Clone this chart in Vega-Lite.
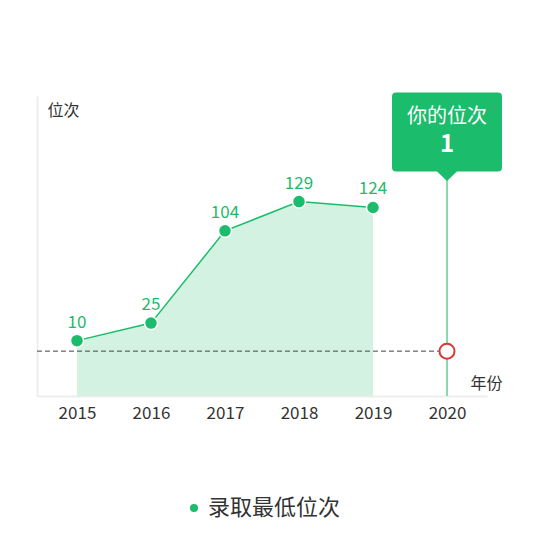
{
  "$schema": "https://vega.github.io/schema/vega-lite/v6.json",
  "width": 450,
  "height": 300,
  "autosize": "none",
  "padding": {"left": 37, "top": 96, "right": 58, "bottom": 150},
  "background": "white",
  "config": {
    "font": "Noto Sans CJK SC",
    "view": {"stroke": null},
    "axis": {"grid": false, "ticks": false, "domainColor": "#eeeeee", "domainWidth": 2}
  },
  "datasets": {
    "history": [
      {"year": 2015, "rank": 10, "series": "录取最低位次"},
      {"year": 2016, "rank": 25, "series": "录取最低位次"},
      {"year": 2017, "rank": 104, "series": "录取最低位次"},
      {"year": 2018, "rank": 129, "series": "录取最低位次"},
      {"year": 2019, "rank": 124, "series": "录取最低位次"}
    ],
    "mine": [
      {"year": 2020, "rank": 1, "label": "你的位次"}
    ]
  },
  "encoding": {
    "x": {
      "field": "year",
      "type": "quantitative",
      "scale": {"domain": [2014.4595, 2020.5405], "nice": false, "zero": false},
      "axis": {
        "values": [2015, 2016, 2017, 2018, 2019, 2020],
        "format": "d",
        "labelFontSize": 17,
        "labelColor": "#333333",
        "labelPadding": 9,
        "title": "年份",
        "titleFontSize": 16,
        "titleFontWeight": "normal",
        "titleColor": "#333333",
        "titleX": 465,
        "titleY": -13,
        "titleAlign": "right",
        "titleBaseline": "middle"
      }
    },
    "y": {
      "field": "rank",
      "type": "quantitative",
      "scale": {"domain": [-37.4, 219.4], "nice": false, "zero": false},
      "axis": {
        "labels": false,
        "title": "位次",
        "titleFontSize": 16,
        "titleFontWeight": "normal",
        "titleColor": "#333333",
        "titleAngle": 0,
        "titleX": 10,
        "titleY": 14,
        "titleAlign": "left",
        "titleBaseline": "middle"
      }
    }
  },
  "layer": [
    {
      "data": {"name": "history"},
      "mark": {"type": "area", "color": "#d3f2e1"},
      "encoding": {"y2": {"datum": -37.4}}
    },
    {
      "data": {"name": "mine"},
      "mark": {"type": "rule", "color": "#8cd9ad", "strokeWidth": 2},
      "encoding": {"y": {"datum": 188.6}, "y2": {"datum": -37.4}}
    },
    {
      "data": {"name": "mine"},
      "mark": {"type": "rule", "color": "#444444", "strokeWidth": 1, "strokeDash": [5, 3]},
      "encoding": {"x": {"datum": 2014.4595}, "x2": {"field": "year"}}
    },
    {
      "data": {"name": "history"},
      "mark": {"type": "line", "color": "#1bbc6b", "strokeWidth": 1.5}
    },
    {
      "data": {"name": "history"},
      "mark": {"type": "point", "filled": true, "size": 169, "stroke": "white", "strokeWidth": 1.5, "opacity": 1},
      "encoding": {
        "color": {
          "field": "series",
          "type": "nominal",
          "scale": {"range": ["#1bbc6b"]},
          "legend": {
            "title": null,
            "orient": "none",
            "legendX": 146,
            "legendY": 401,
            "symbolType": "circle",
            "symbolSize": 64,
            "symbolStrokeWidth": 0,
            "labelFontSize": 22,
            "labelColor": "#333333",
            "labelOffset": 3
          }
        }
      }
    },
    {
      "data": {"name": "history"},
      "mark": {"type": "text", "color": "#1bbc6b", "fontSize": 17, "baseline": "middle", "dy": -18},
      "encoding": {"text": {"field": "rank"}}
    },
    {
      "data": {"name": "mine"},
      "mark": {"type": "point", "filled": true, "fill": "white", "stroke": "#d9383a", "strokeWidth": 2, "size": 225, "opacity": 1}
    },
    {
      "data": {"name": "mine"},
      "mark": {
        "type": "point",
        "filled": true,
        "color": "#1bbc6b",
        "opacity": 1,
        "size": 12100,
        "shape": "M-0.927,-0.718L0.927,-0.718Q1,-0.718 1,-0.645L1,0.645Q1,0.718 0.927,0.718L0.18,0.718L0,0.89L-0.18,0.718L-0.927,0.718Q-1,0.718 -1,0.645L-1,-0.645Q-1,-0.718 -0.927,-0.718Z"
      },
      "encoding": {"y": {"datum": 188.6}}
    },
    {
      "data": {"name": "mine"},
      "mark": {"type": "text", "color": "white", "fontSize": 20, "baseline": "middle", "dy": -15},
      "encoding": {"y": {"datum": 188.6}, "text": {"field": "label"}}
    },
    {
      "data": {"name": "mine"},
      "mark": {"type": "text", "color": "white", "fontSize": 24, "fontWeight": "bold", "baseline": "middle", "dy": 13},
      "encoding": {"y": {"datum": 188.6}, "text": {"field": "rank"}}
    }
  ]
}
